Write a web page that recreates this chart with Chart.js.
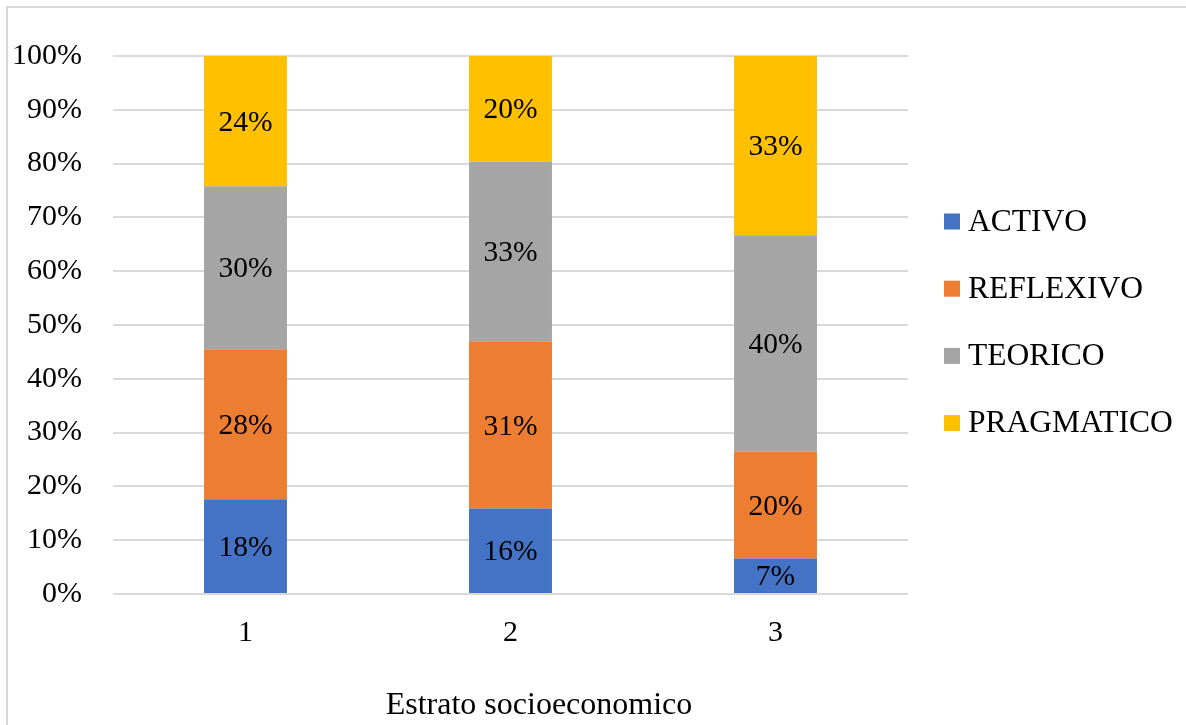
<!DOCTYPE html>
<html>
<head>
<meta charset="utf-8">
<script src="https://cdn.jsdelivr.net/npm/chart.js@4/dist/chart.umd.min.js"></script>
<style>
  html, body { margin: 0; padding: 0; background: #fff; }
</style>
</head>
<body>
<canvas id="myChart" width="1186" height="725"></canvas>
<script>
// data (percent of each estrato)
var estratos = ['1', '2', '3'];
var estilos = ['ACTIVO', 'REFLEXIVO', 'TEORICO', 'PRAGMATICO'];
var activo = [17.6, 15.9, 6.6];
var reflexivo = [27.9, 31.1, 19.9];
var teorico = [30.3, 33.4, 40.2];
var pragmatico = [24.2, 19.6, 33.3];
var colores = ['#4472C4', '#ED7D31', '#A5A5A5', '#FFC000'];
var xTitle = 'Estrato socioeconomico';

var serif = '"Liberation Serif", "Times New Roman", serif';
var series = [activo, reflexivo, teorico, pragmatico];

// white background + thin frame like the excel chart area
var frame = {
    id: 'frame',
    beforeDraw: function (chart) {
        var ctx = chart.ctx;
        ctx.save();
        ctx.fillStyle = '#fff';
        ctx.fillRect(0, 0, chart.width, chart.height);
        ctx.strokeStyle = '#d9d9d9';
        ctx.lineWidth = 2;
        ctx.strokeRect(7, 7, chart.width + 20, chart.height + 20);
        ctx.restore();
    }
};

// % labels in the middle of each segment
var segLabels = {
    id: 'segLabels',
    afterDatasetsDraw: function (chart) {
        var ctx = chart.ctx;
        ctx.save();
        ctx.font = '29.5px ' + serif;
        ctx.fillStyle = '#000';
        ctx.textAlign = 'center';
        ctx.textBaseline = 'middle';
        chart.data.datasets.forEach(function (ds, i) {
            chart.getDatasetMeta(i).data.forEach(function (bar, j) {
                var p = bar.getProps(['x', 'y', 'base'], true);
                ctx.fillText(Math.round(ds.data[j]) + '%', p.x, (p.y + p.base) / 2 + 2);
            });
        });
        ctx.restore();
    }
};

// legend on the right + the x axis title (excel puts it off-centre)
var sideLegend = {
    id: 'sideLegend',
    afterDraw: function (chart) {
        var ctx = chart.ctx;
        var area = chart.chartArea;
        ctx.save();
        ctx.textBaseline = 'middle';
        ctx.textAlign = 'left';
        ctx.font = '31.5px ' + serif;
        chart.data.datasets.forEach(function (ds, i) {
            var cy = 221.5 + i * 67.2;
            ctx.fillStyle = ds.backgroundColor;
            ctx.fillRect(area.right + 36, cy - 8, 16, 16);
            ctx.fillStyle = '#000';
            ctx.fillText(ds.label, area.right + 60, cy + 1);
        });
        ctx.font = '32px ' + serif;
        ctx.textAlign = 'center';
        ctx.textBaseline = 'alphabetic';
        ctx.fillText(xTitle, 539, 714);
        ctx.restore();
    }
};

var ctx = document.getElementById('myChart').getContext('2d');
var chart = new Chart(ctx, {
    type: 'bar',
    data: {
        labels: estratos,
        datasets: estilos.map(function (name, i) {
            return {
                label: name,
                data: series[i],
                backgroundColor: colores[i],
                borderWidth: 0,
                categoryPercentage: 1,
                barPercentage: 0.313
            };
        })
    },
    options: {
        responsive: false,
        devicePixelRatio: 1,
        animation: false,
        layout: { padding: { left: 0, right: 278, top: 56, bottom: 53 } },
        plugins: {
            legend: { display: false },
            tooltip: { enabled: false }
        },
        scales: {
            x: {
                stacked: true,
                grid: { display: false, drawTicks: false },
                border: { display: false },
                ticks: { color: '#000', font: { family: serif, size: 30 }, padding: 21 }
            },
            y: {
                stacked: true,
                min: 0,
                max: 100,
                grid: { color: '#d9d9d9', lineWidth: 2, drawTicks: false },
                border: { display: false },
                ticks: {
                    stepSize: 10,
                    color: '#000',
                    padding: 31,
                    font: { family: serif, size: 30 },
                    callback: function (v) { return v + '%'; }
                },
                afterFit: function (scale) { scale.width = 113; }
            }
        }
    },
    plugins: [frame, segLabels, sideLegend]
});
</script>
</body>
</html>
